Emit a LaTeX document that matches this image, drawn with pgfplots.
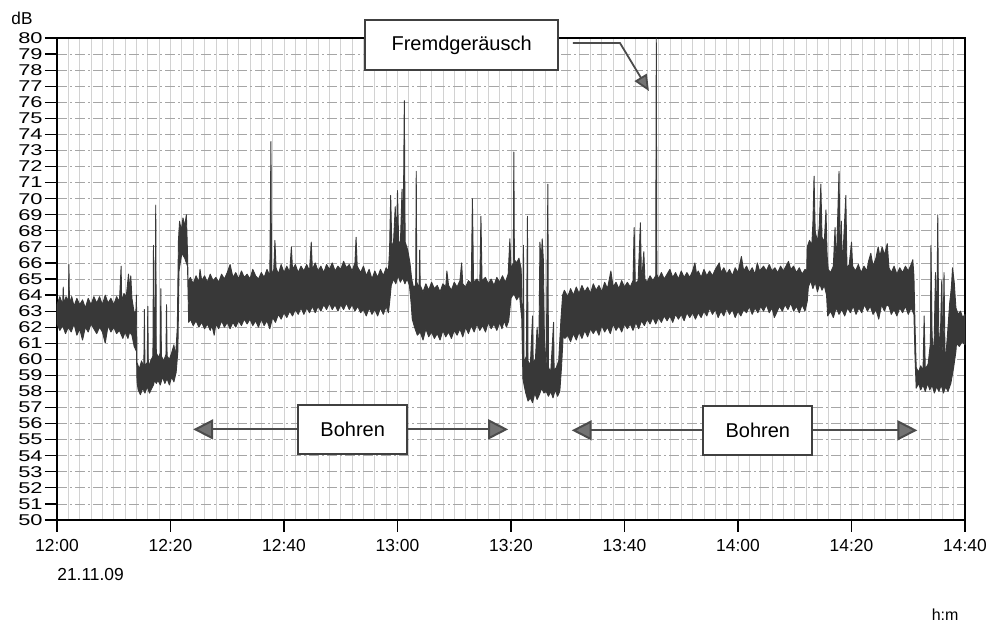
\documentclass[border=0pt]{standalone}
\usepackage{fontspec}
\setmainfont{Liberation Sans}
\usepackage{pgfplots}
\pgfplotsset{compat=1.18}
\usetikzlibrary{arrows.meta}
\begin{document}
\begin{tikzpicture}
\path[use as bounding box] (-28.5pt,-52pt) rectangle (466pt,260pt);
\begin{axis}[
  at={(0,0)}, anchor=south west,
  scale only axis, width=454pt, height=241pt,
  xmin=0, xmax=160, ymin=50, ymax=80,
  xtick={0,20,...,160},
  xticklabels={12:00,12:20,12:40,13:00,13:20,13:40,14:00,14:20,14:40},
  minor xtick={0,2,...,160},
  ytick={50,51,...,80},
  xtick pos=left, ytick pos=left,
  tick align=outside, major tick length=6pt, minor tick length=0pt,
  tick style={black, line width=0.6pt},
  xmajorgrids, xminorgrids, ymajorgrids,
  major x grid style={gray!35, line width=0.4pt},
  minor x grid style={gray!35, line width=0.4pt},
  major y grid style={gray!70, line width=0.4pt, dash pattern=on 5pt off 1.5pt on 1pt off 1.5pt},
  axis line style={black, line width=0.9pt},
  /pgf/number format/assume math mode=true,
  yticklabel style={font=\fontsize{7.8}{8}\selectfont, inner sep=1pt},
  yticklabel={\scalebox{1.4}[1]{\pgfmathprintnumber{\tick}}},
  xticklabel style={font=\fontsize{8.7}{10}\selectfont},
  clip=false,
]
\addplot[fill=black!78, draw=black!78, line width=0.45pt, line join=round] coordinates {
(0,63.4) (0.5,63.9) (1,63.4) (1.1,64.5) (1.2,63.5) (1.6,63.9) (2.0,63.6) (2.1,65.9) (2.2,63.5) (2.6,63.9) (3,63.3) (3.5,63.8) (4,63.4) (4.5,63.7) (5,63.2) (5.5,63.8) (6,63.4) (6.5,63.9) (7,63.5) (7.5,63.9) (8,63.4) (8.5,64.0) (9,63.5) (9.5,63.8) (10,63.4) (10.5,63.9) (11,63.6) (11.3,65.8) (11.4,63.6) (11.8,64.1) (12.2,63.9) (12.6,65.3) (12.8,64.3) (13.0,65.2) (13.2,63.8) (13.6,62.9) (13.9,63.0) (14.0,64.0) (14.1,59.8)
(14.5,59.4) (14.9,59.9) (15.3,59.5) (15.4,63.1) (15.5,59.6) (15.9,59.8) (16.0,63.3) (16.1,59.5) (16.5,59.9) (16.9,60.2) (17.0,67.1) (17.1,61.5) (17.3,63.0) (17.4,69.6) (17.5,60.4) (17.9,60.1) (18.2,60.4) (18.3,64.4) (18.4,60.2) (18.8,59.9) (19.2,60.3) (19.3,63.4) (19.4,60.2) (19.8,60.0) (20.2,60.4) (20.6,60.9) (20.9,60.2) (21.2,62.0) (21.4,67.4) (21.6,68.6) (21.9,68.0) (22.2,68.8) (22.5,68.3) (22.8,69.0) (23.0,66.6) (23.1,64.8)
(23.5,65.1) (24,64.7) (24.5,65.2) (25,64.8) (25.2,65.6) (25.5,64.9) (26,65.2) (26.5,64.8) (27,65.3) (27.5,64.9) (28,65.1) (28.5,64.8) (29,65.3) (29.5,65.0) (30,65.4) (30.5,65.9) (31,65.1) (31.5,65.4) (32,65.0) (32.5,65.5) (33,65.1) (33.5,65.3) (34,65.0) (34.5,65.6) (35,65.2) (35.5,65.0) (36,65.4) (36.5,65.1) (37,65.6) (37.5,65.2) (37.7,73.55) (37.8,65.3) (38.2,65.6) (38.4,67.4) (38.6,65.7) (39,65.3) (39.5,65.9) (40,65.4) (40.5,65.8) (41,65.4) (41.3,67.0) (41.5,65.6) (42,65.9) (42.5,65.4) (43,65.8) (43.5,65.5) (44,65.9) (44.5,65.5) (44.8,67.3) (45,65.6) (45.5,66.0) (46,65.5) (46.5,65.8) (47,65.4) (47.5,65.9) (48,65.6) (48.5,66.0) (49,65.5) (49.5,65.8) (50,65.6) (50.5,66.1) (51,65.7) (51.5,65.9) (52,65.5) (52.5,66.0) (52.7,67.6) (52.9,65.8) (53.5,65.4) (54,65.8) (54.5,65.2) (55,65.6) (55.5,65.0) (56,65.5) (56.5,65.1) (57,65.6) (57.5,65.2) (58,65.7) (58.4,65.5)
(58.6,66.8) (58.8,70.2) (59.0,67.0) (59.3,67.3) (59.6,69.5) (59.8,67.2) (60.0,70.5) (60.2,67.4) (60.5,67.1) (60.8,70.6) (61.0,67.5) (61.2,76.1) (61.35,67.3) (61.8,66.8) (62.2,66.0) (62.5,65.0)
(62.8,64.5) (63.2,64.6) (63.3,71.7) (63.4,64.8) (63.8,64.4) (63.9,66.8) (64.0,64.6) (64.5,64.2) (65,64.7) (65.5,64.3) (66,64.8) (66.5,64.4) (67,64.6) (67.5,64.2) (68,64.7) (68.5,64.5) (68.7,65.5) (69,64.6) (69.5,64.3) (70,64.8) (70.5,64.5) (71,64.9) (71.3,66.0) (71.5,64.7) (72,64.5) (72.5,64.9) (73,64.7) (73.2,70.0) (73.4,64.8) (74,65.0) (74.5,64.7) (74.7,68.9) (74.9,64.9) (75.5,65.1) (76,64.7) (76.5,65.0) (77,64.6) (77.5,65.1) (78,64.8) (78.5,65.2) (79,64.8) (79.5,65.3) (79.8,67.5) (80,65.6) (80.4,66.0) (80.5,72.9) (80.6,66.2) (81,66.0) (81.4,66.3) (81.8,65.6) (82.0,61.5)
(82.1,60.0) (82.2,67.1) (82.3,59.8) (82.7,60.2) (82.9,68.9) (83.0,59.9) (83.4,59.6) (83.8,62.7) (83.9,59.8) (84.3,60.0) (84.6,62.0) (84.9,60.4) (85.1,67.3) (85.3,66.0) (85.5,67.5) (85.7,66.2) (85.9,61.0) (86.2,59.4) (86.5,70.9) (86.6,59.5) (87.0,59.2) (87.5,62.3) (87.6,59.3) (88.0,59.5) (88.4,59.9) (88.8,62.5) (89.1,64.0) (89.4,64.3)
(90,63.9) (90.5,64.4) (91,64.0) (91.5,64.5) (92,64.1) (92.5,64.6) (93,64.2) (93.5,64.5) (94,64.1) (94.5,64.7) (95,64.3) (95.5,64.6) (96,64.2) (96.5,64.8) (97,64.4) (97.6,65.5) (98,64.5) (98.5,64.8) (99,64.4) (99.5,64.9) (100,64.5) (100.5,64.8) (101,64.5) (101.5,64.9) (101.7,68.2) (101.9,64.7) (102.4,64.9) (102.8,68.5) (103.0,64.8) (103.4,66.7) (103.6,65.0) (104,64.8) (104.5,65.2) (105,64.9) (105.5,65.2) (105.6,80.0) (105.7,65.3) (106,65.0) (106.5,65.4) (107,65.0) (107.5,65.3) (108,65.6) (108.5,65.1) (109,65.4) (109.5,65.0) (110,65.5) (110.5,65.1) (111,65.4) (111.5,65.1) (112,65.5) (112.4,66.0) (112.7,65.3) (113,65.5) (113.5,65.1) (114,65.6) (114.5,65.2) (115,65.5) (115.5,65.2) (116,65.6) (116.7,66.0) (117,65.4) (117.5,65.7) (118,65.3) (118.5,65.6) (119,65.2) (119.5,65.7) (120,65.4) (120.6,66.4) (121,65.5) (121.5,65.8) (122,65.4) (122.5,65.7) (123,65.3) (123.4,66.0) (123.8,65.5) (124.5,65.8) (125,65.5) (125.5,65.9) (126,65.5) (126.5,65.7) (127,65.4) (127.5,65.8) (128,65.5) (128.9,66.1) (129.3,65.6) (129.8,65.8) (130.3,65.4) (130.8,65.7) (131.3,65.3) (131.8,65.6) (132.1,65.5)
(132.2,67.0) (132.6,67.4) (133.0,67.1) (133.2,68.5) (133.4,71.4) (133.6,68.0) (134.0,67.3) (134.3,68.2) (134.6,70.9) (134.8,67.6) (135.2,67.3) (135.5,69.3) (135.7,66.5) (135.9,65.6)
(136.3,65.4) (136.8,65.8) (137.1,68.2) (137.3,65.6) (137.8,71.7) (138.0,65.9) (138.2,68.6) (138.4,65.8) (139.0,70.2) (139.2,65.7) (139.6,65.9) (140.0,67.3) (140.2,65.8) (140.7,65.5) (141.2,65.9) (141.7,65.4) (142.2,65.8) (142.7,65.5) (143.0,66.1) (143.4,66.6) (143.8,65.8) (144.3,66.3) (144.7,67.0) (145.0,66.4) (145.4,67.0) (145.8,66.5) (146.3,67.2) (146.6,65.7) (147.0,65.4) (147.5,65.8) (148,65.3) (148.5,65.7) (149,65.4) (149.5,65.8) (150,65.5) (150.5,65.9) (150.8,66.2) (151.0,65.2) (151.2,62.0)
(151.4,59.5) (151.8,59.2) (152.2,59.6) (152.6,59.3) (152.8,62.7) (153.0,59.4) (153.5,59.7) (153.9,61.0) (154.0,67.1) (154.2,61.5) (154.5,60.0) (154.8,65.4) (155.0,61.0) (155.2,69.0) (155.4,60.5) (155.7,62.0) (155.9,64.9) (156.1,60.0) (156.3,65.4) (156.5,59.6) (156.9,61.5) (157.3,63.5) (157.6,64.5) (157.8,65.7) (158.1,64.8) (158.4,63.2) (158.8,62.8) (159.2,63.0) (159.6,62.6) (160,62.8)
(160,60.9) (159.5,61.1) (159.0,60.8) (158.5,61.0) (158.4,60.5) (158.0,59.5) (157.5,58.5) (157.0,58.0) (156.6,58.3) (156.2,57.9) (155.8,58.4) (155.4,58.0) (155.0,58.3) (154.6,57.9) (154.2,58.4) (153.8,58.1) (153.4,58.5) (153.0,58.0) (152.6,58.4) (152.2,58.1) (151.8,58.5) (151.4,58.2) (151.2,60.0)
(151.0,62.8) (150.5,63.2) (150,62.8) (149.5,63.3) (149,62.9) (148.5,63.2) (148,62.7) (147.5,63.1) (147,62.8) (146.6,63.3) (146.2,63.4) (145.8,63.0) (145.3,63.4) (144.8,62.5) (144.3,63.1) (143.8,62.8) (143.3,63.3) (142.8,63.0) (142.3,63.4) (141.8,62.9) (141.3,63.2) (140.8,62.8) (140.3,63.3) (139.8,62.9) (139.3,63.2) (138.8,62.7) (138.3,63.1) (137.8,62.8) (137.3,63.2) (136.8,62.6) (136.3,63.0) (135.8,62.7)
(135.6,64.0) (135.2,64.6) (134.8,64.3) (134.4,64.7) (134.0,64.2) (133.6,64.8) (133.2,64.4) (132.8,64.9) (132.4,64.5) (132.2,63.6)
(131.8,63.0) (131.3,63.4) (130.8,62.9) (130.3,63.3) (129.8,63.0) (129.3,63.5) (128.8,63.1) (128.3,63.4) (127.8,63.0) (127.3,63.3) (126.8,62.9) (126.4,62.6) (126.0,63.2) (125.5,62.9) (125.0,63.4) (124.5,63.0) (124.0,63.3) (123.5,62.9) (123.0,63.2) (122.5,62.8) (122.0,63.3) (121.5,62.9) (121.0,63.1) (120.5,62.7) (120.0,63.0) (119.5,62.6) (119.0,63.1) (118.5,62.8) (118.0,63.2) (117.5,62.7) (117.0,63.0) (116.5,62.6) (116.0,63.1) (115.5,62.8) (115.0,63.2) (114.5,62.7) (114.0,63.0) (113.5,62.6) (113.0,62.9) (112.5,62.5) (112.0,62.9) (111.5,62.6) (111.0,62.9) (110.5,62.4) (110.0,62.8) (109.5,62.5) (109.0,62.8) (108.5,62.3) (108.0,62.7) (107.5,62.4) (107.0,62.7) (106.5,62.3) (106.0,62.6) (105.5,62.2) (105.0,62.6) (104.5,62.2) (104.0,62.5) (103.5,62.1) (103.0,62.4) (102.5,61.9) (102.0,62.3) (101.5,61.8) (101.0,62.2) (100.5,61.9) (100.0,62.2) (99.5,61.7) (99.0,62.1) (98.5,61.8) (98.0,62.2) (97.5,61.6) (97.0,62.0) (96.5,61.7) (96.0,62.1) (95.5,61.5) (95.0,61.9) (94.5,61.6) (94.0,61.9) (93.5,61.4) (93.0,61.8) (92.5,61.3) (92.0,61.7) (91.5,61.2) (91.0,61.6) (90.5,61.1) (90.0,61.5) (89.5,61.3) (89.2,61.5) (88.9,59.5)
(88.6,58.0) (88.2,57.7) (87.8,58.1) (87.4,57.6) (87.0,58.0) (86.6,57.7) (86.2,58.0) (85.8,57.9) (85.4,58.2) (85.0,57.8) (84.6,57.5) (84.2,57.9) (83.8,57.3) (83.4,57.6) (83.0,57.4) (82.6,57.9) (82.3,58.4) (82.1,58.8) (81.9,62.5)
(81.5,64.0) (81.0,63.7) (80.5,64.1) (80.0,63.8) (79.6,62.4) (79.2,62.0) (78.8,62.4) (78.4,61.9) (78.0,62.3) (77.5,61.8) (77.0,62.2) (76.5,61.9) (76.0,62.3) (75.5,61.7) (75.0,62.1) (74.5,61.8) (74.0,62.2) (73.5,61.7) (73.0,62.1) (72.5,61.6) (72.0,62.0) (71.5,61.4) (71.0,61.9) (70.5,61.5) (70.0,61.8) (69.5,61.3) (69.0,61.7) (68.5,61.4) (68.0,61.8) (67.5,61.2) (67.0,61.6) (66.5,61.3) (66.0,61.7) (65.5,61.4) (65.0,61.9) (64.5,61.2) (64.0,61.7) (63.5,61.5) (63.0,62.0) (62.6,62.5)
(62.4,63.5) (62.1,64.6) (61.7,65.0) (61.3,64.7) (60.9,65.1) (60.5,64.8) (60.1,65.2) (59.7,64.7) (59.3,65.0) (58.9,64.6) (58.6,63.5)
(58.4,62.9) (58.0,63.3) (57.5,62.8) (57.0,63.2) (56.5,62.7) (56.0,63.1) (55.5,62.8) (55.0,63.2) (54.5,62.7) (54.0,63.1) (53.5,62.9) (53.0,63.3) (52.5,63.0) (52.0,63.4) (51.5,63.1) (51.0,63.5) (50.5,63.1) (50.0,63.4) (49.5,63.0) (49.0,63.4) (48.5,63.1) (48.0,63.5) (47.5,63.1) (47.0,63.4) (46.5,63.0) (46.0,63.3) (45.5,62.9) (45.0,63.3) (44.5,62.9) (44.0,63.2) (43.5,62.8) (43.0,63.2) (42.5,62.8) (42.0,63.1) (41.5,62.7) (41.0,63.0) (40.5,62.6) (40.0,62.9) (39.5,62.5) (39.0,62.8) (38.5,62.3) (38.0,62.6) (37.5,61.9) (37.0,62.4) (36.5,62.1) (36.0,62.5) (35.5,62.0) (35.0,62.4) (34.5,62.1) (34.0,62.5) (33.5,62.2) (33.0,62.5) (32.5,62.1) (32.0,62.4) (31.5,62.0) (31.0,62.3) (30.5,61.9) (30.0,62.3) (29.5,62.0) (29.0,62.4) (28.5,61.9) (28.0,62.2) (27.7,61.5) (27.3,62.1) (27.0,61.8) (26.5,62.2) (26.0,61.9) (25.5,62.3) (25.0,62.0) (24.5,62.4) (24.0,62.1) (23.5,62.5) (23.2,62.3)
(23.0,65.8) (22.5,66.3) (22.0,66.6) (21.5,65.5) (21.3,60.5) (21.0,59.2)
(20.6,58.6) (20.2,58.9) (19.8,58.4) (19.4,58.8) (19.0,58.5) (18.6,58.9) (18.2,58.4) (17.8,58.7) (17.5,58.5) (17.2,58.7) (17.0,58.4)
(16.7,58.2) (16.3,57.9) (15.9,58.3) (15.5,57.9) (15.1,58.2) (14.7,57.8) (14.3,58.1) (14.1,58.6) (14.0,60.5) (13.6,60.8) (13.2,61.5)
(12.8,61.7) (12.5,61.3) (12.0,61.7) (11.6,61.3) (11.0,61.8) (10.5,61.6) (10.0,62.0) (9.5,61.7) (9.0,62.1) (8.5,61.0) (8.0,61.7) (7.5,62.0) (7.0,61.6) (6.5,61.9) (6.0,62.2) (5.5,61.7) (5.0,62.0) (4.5,61.2) (4.0,61.9) (3.5,61.5) (3.0,62.2) (2.5,61.7) (2.0,62.0) (1.5,61.6) (1.0,62.1) (0.5,61.8) (0,62.2)
} -- cycle;

% Fremdgeraeusch annotation
\draw[black!70, line width=0.9pt, -{Triangle[length=8pt,width=7pt,fill=black!55]}]
  (axis cs:90.9,79.69) -- (axis cs:99.2,79.69) -- (axis cs:104.3,76.7);
\node[draw=black!75, line width=1pt, fill=white, minimum width=96.5pt, minimum height=25pt,
  font=\fontsize{10}{12}\selectfont] at (axis cs:71.3,79.56) {Fremdgeräusch};

% Bohren annotations
\node[draw=black!75, line width=1pt, fill=white, minimum width=54.5pt, minimum height=24.5pt,
  font=\fontsize{10}{12}\selectfont] (b1) at (axis cs:52.1,55.64) {Bohren};
\draw[black!70, line width=1pt, -{Triangle[length=10pt,width=10pt,fill=black!55]}] (b1.west) -- (axis cs:24.0,55.64);
\draw[black!70, line width=1pt, -{Triangle[length=10pt,width=10pt,fill=black!55]}] (b1.east) -- (axis cs:79.5,55.64);
\node[draw=black!75, line width=1pt, fill=white, minimum width=54.5pt, minimum height=24.5pt,
  font=\fontsize{10}{12}\selectfont] (b2) at (axis cs:123.5,55.58) {Bohren};
\draw[black!70, line width=1pt, -{Triangle[length=10pt,width=10pt,fill=black!55]}] (b2.west) -- (axis cs:90.7,55.58);
\draw[black!70, line width=1pt, -{Triangle[length=10pt,width=10pt,fill=black!55]}] (b2.east) -- (axis cs:151.6,55.58);

% outer texts
\node[font=\fontsize{8.6}{10}\selectfont] at (axis cs:-6.17,81.24) {dB};
\node[anchor=west, inner sep=0pt, font=\fontsize{8.7}{10}\selectfont] at (axis cs:0,46.58) {21.11.09};
\node[font=\fontsize{8}{10}\selectfont] at (axis cs:156.5,44.09) {h:m};
\end{axis}
\end{tikzpicture}
\end{document}
